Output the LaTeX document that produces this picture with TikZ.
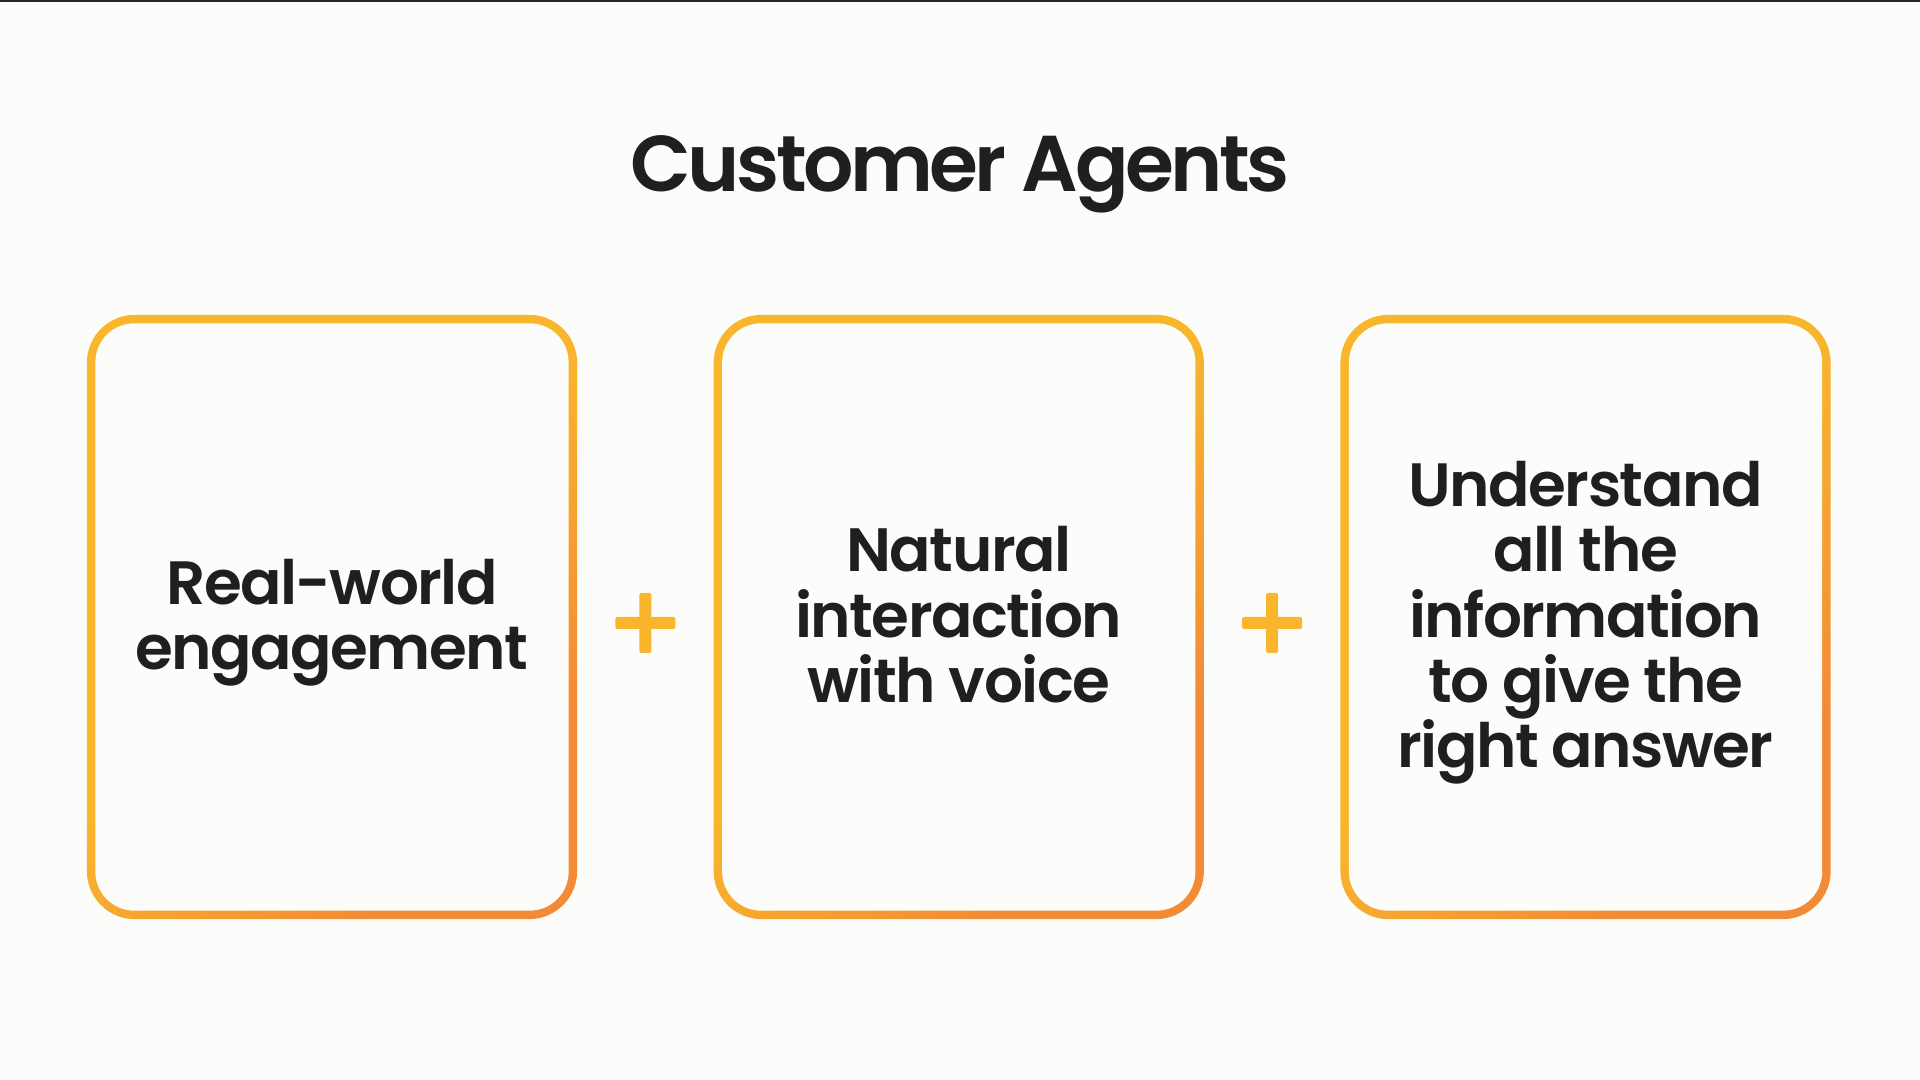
\documentclass[tikz,border=0pt]{standalone}
\usepackage{fontspec}
\setmainfont{Poppins}[UprightFont={* SemiBold}]
\usetikzlibrary{positioning,calc}
\definecolor{pagebg}{HTML}{FCFDFB}
\definecolor{edgeyellow}{HTML}{F9B62C}
\definecolor{edgeorange}{HTML}{F38A36}
\definecolor{inkgrey}{HTML}{1F1F1F}
\pgfdeclarehorizontalshading{edgeshade}{100bp}{color(0bp)=(edgeyellow); color(25bp)=(edgeyellow); color(47bp)=(edgeyellow); color(72bp)=(edgeorange); color(100bp)=(edgeorange)}
\tikzset{
    agent/.style = {minimum width=4.9cm, minimum height=6.04cm, inner sep=0pt,
                 rounded corners=0.48cm, align=center, text=inkgrey,
                 font=\addfontfeatures{LetterSpace=-2.5}\fontsize{17.4}{18.5}\selectfont,
                 path picture={
                   \shade[shading=edgeshade, shading angle=-45]
                     (path picture bounding box.south west) rectangle (path picture bounding box.north east);
                   \fill[pagebg, rounded corners=0.39cm]
                     ([shift={(0.085cm,0.085cm)}]path picture bounding box.south west) rectangle
                     ([shift={(-0.085cm,-0.085cm)}]path picture bounding box.north east);
                 }},
    plusbar/.style = {fill=edgeyellow, rounded corners=0.02cm},
}
\newcommand\firstline{\rule{0pt}{20pt}}
\newcommand\lastline{\rule[-8.6pt]{0pt}{8.6pt}}

\begin{document}
\begin{tikzpicture}[x=0.01cm, y=-0.01cm]
\fill[pagebg] (0,0) rectangle (1920,1080);
\useasboundingbox (0,0) rectangle (1920,1080);
\fill[black!85] (0,0) rectangle (1920,2);

\node (title) [anchor=base, text=inkgrey, font=\addfontfeatures{LetterSpace=-4.5}\fontsize{22.5}{30}\selectfont] at (960,192) {Customer Agents};

\node (engage) [agent] at (332,617) {\firstline Real-world\\ engagement\lastline};
\node (voice)  [agent, right=1.35cm of engage] {\firstline Natural\\ interaction\\ with voice\lastline};
\node (answer) [agent, right=1.35cm of voice] {\firstline Understand\\ all the\\ information\\ to give the\\ right answer\lastline};

% plus signs between the boxes
\coordinate (plusA) at ($(engage.east)!0.5!(voice.west)+(0,6)$);
\coordinate (plusB) at ($(voice.east)!0.5!(answer.west)+(0,6)$);
\foreach \p in {plusA,plusB}{
  \fill[plusbar] ($(\p)+(-6,-30)$) rectangle ($(\p)+(6,30)$);
  \fill[plusbar] ($(\p)+(-30,-6)$) rectangle ($(\p)+(30,6)$);
}
\end{tikzpicture}
\end{document}
